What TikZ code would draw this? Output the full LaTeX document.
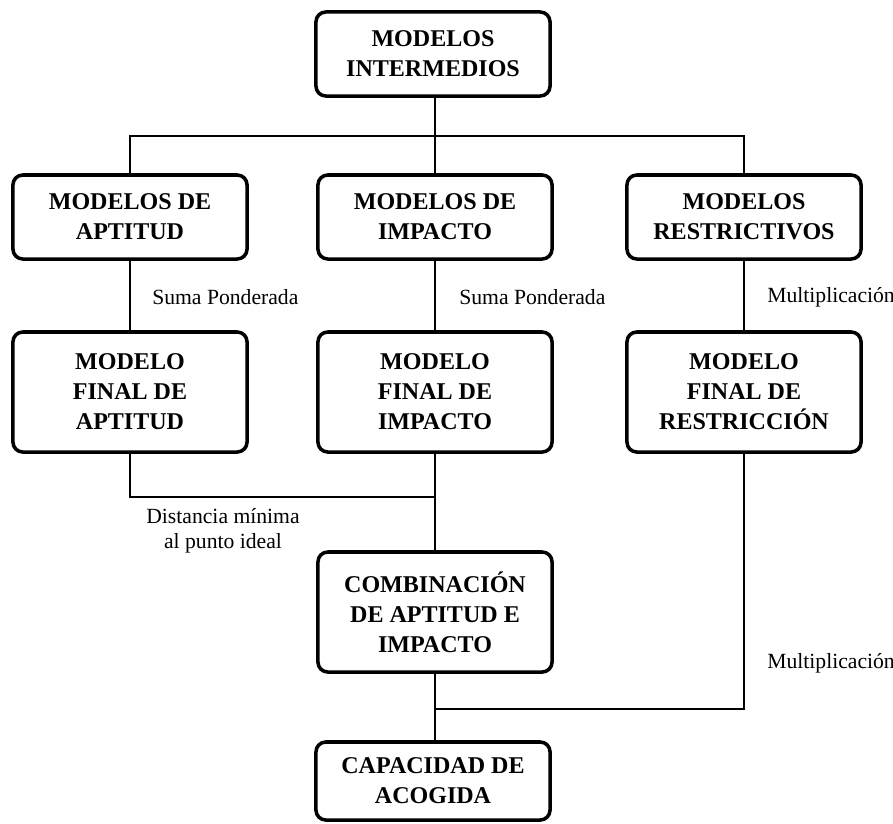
\documentclass[tikz,border=0pt]{standalone}
\usepackage{fontspec}
\setmainfont{Liberation Serif}
\usetikzlibrary{positioning,calc}
\tikzset{
  mbx/.style={rectangle,draw=black,line width=2.5pt,rounded corners=7pt,align=center,
    font=\fontsize{17.1}{21.3}\selectfont\bfseries,minimum width=5.85cm,inner sep=2pt},
  two/.style={mbx,minimum height=2.1cm},
  three/.style={mbx,minimum height=3.0cm},
  ln/.style={draw=black,line width=1.1pt},
  lb/.style={font=\fontsize{15.4}{17.8}\selectfont,anchor=west,inner sep=0pt},
}
\begin{document}
\begin{tikzpicture}[x=0.025cm,y=-0.025cm]
\path[use as bounding box] (0,0) rectangle (893,823);
% -boxes-
\node[two] (top) at (433,54) {MODELOS\\INTERMEDIOS};
\node[two] (apt) at (130,217) {MODELOS DE\\APTITUD};
\node[two] (imp) at (435,217) {MODELOS DE\\IMPACTO};
\node[two] (res) at (744,217) {MODELOS\\RESTRICTIVOS};
\node[three] (fapt) at (130,392) {MODELO\\FINAL DE\\APTITUD};
\node[three] (fimp) at (435,392) {MODELO\\FINAL DE\\IMPACTO};
\node[three] (fres) at (744,392) {MODELO\\FINAL DE\\RESTRICCIÓN};
\node[three] (comb) at (435,612) {COMBINACIÓN\\DE APTITUD E\\IMPACTO};
\node[two,minimum height=1.95cm] (cap) at (433,781) {CAPACIDAD DE\\ACOGIDA};
% -joins-
\coordinate (bar) at (435,136);
\coordinate (j1) at (435,497);
\coordinate (j2) at (435,709);
% -connectors-
\draw[ln] (top.south -| bar) -- (bar) -- (imp.north);
\draw[ln] (apt.north) |- (bar) -| (res.north);
\draw[ln] (apt) -- (fapt);
\draw[ln] (imp) -- (fimp);
\draw[ln] (res) -- (fres);
\draw[ln] (fapt.south) |- (j1);
\draw[ln] (fimp.south) -- (comb.north);
\draw[ln] (fres.south) |- (j2);
\draw[ln] (comb.south) -- (cap.north -| comb.south);
% -labels-
\node[lb] (l1) at (152,297) {Suma Ponderada};
\node[lb] (l2) at (459,297) {Suma Ponderada};
\node[lb] (l3) at (767,297) {Multiplicación};
\node[lb] (l4) at (767,663) {Multiplicación};
\node[lb,anchor=center,align=center] (l5) at (223,531) {Distancia mínima\\al punto ideal};
\end{tikzpicture}
\end{document}
